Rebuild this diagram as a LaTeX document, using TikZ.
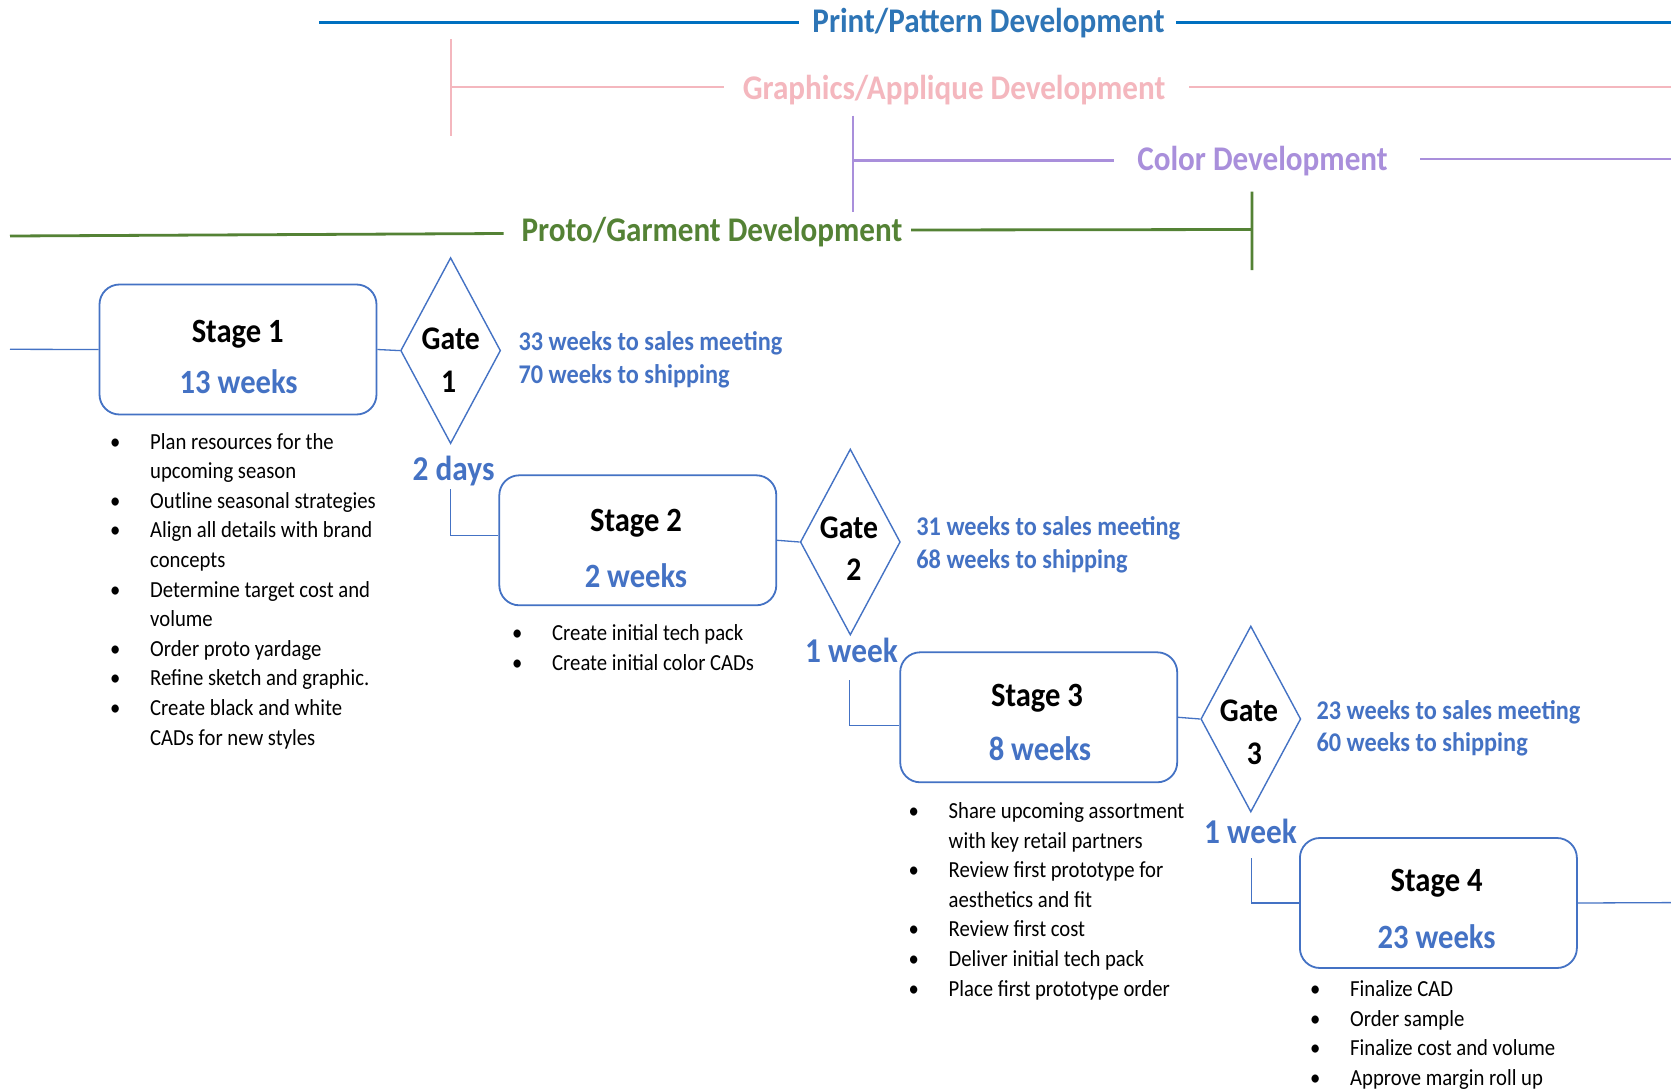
\documentclass[tikz,border=0pt]{standalone}
\usepackage{fontspec}
\setmainfont{Carlito}[FakeStretch=0.9]
\usetikzlibrary{shapes.geometric}
\definecolor{acc}{HTML}{4472C4}
\definecolor{ppblue}{HTML}{2E75B6}
\definecolor{ppline}{HTML}{0070C0}
\definecolor{gapink}{HTML}{F4B7BE}
\definecolor{cdpurple}{HTML}{A98FDB}
\definecolor{pggreen}{HTML}{548235}
\begin{document}
\begin{tikzpicture}[x=1pt,y=-1pt,
  stagebox/.style={draw=acc, line width=1.8pt, rounded corners=20pt, minimum width=277pt, minimum height=130pt, inner sep=0pt},
  gatebox/.style={diamond, draw=acc, line width=1.4pt, minimum width=100pt, minimum height=186pt, inner sep=0pt},
  link/.style={draw=acc, line width=1.3pt},
  stagetxt/.style={font=\fontsize{34}{40}\selectfont\bfseries, anchor=base, inner sep=0pt},
  weektxt/.style={stagetxt, text=acc},
  waittxt/.style={font=\fontsize{34.8}{40}\selectfont\bfseries, text=acc, anchor=base, inner sep=0pt},
  gatetxt/.style={font=\fontsize{33}{40}\selectfont\bfseries, anchor=base, inner sep=0pt},
  sidetxt/.style={font=\fontsize{27}{32.5}\selectfont\bfseries, text=acc, anchor=base west, inner sep=0pt},
  bullets/.style={font=\fontsize{23}{29.6}\selectfont, anchor=base west, inner sep=0pt},
  hdr/.style={font=\fontsize{34.6}{40}\selectfont\bfseries, anchor=base, inner sep=0pt},
]
\useasboundingbox[fill=white] (0,0) rectangle (1671,1092);

% ---------- header brackets ----------
\node[hdr, text=ppblue] (hpp) at (988.5,32.6) {Print/Pattern Development};
\coordinate (pp1) at (319,22.3); \coordinate (pp2) at (799,22.3);
\coordinate (pp3) at (1176,22.3); \coordinate (pp4) at (1671,22.3);
\draw[ppline, line width=2.8pt] (pp1) -- (pp2) (pp3) -- (pp4);

\node[hdr, text=gapink] (hga) at (954,99.5) {Graphics/Applique Development};
\coordinate (ga0) at (451,39); \coordinate (ga1) at (451,136);
\coordinate (ga2) at (451,87.3); \coordinate (ga3) at (723.5,87.3);
\coordinate (ga4) at (1189,87.3); \coordinate (ga5) at (1671,87.3);
\draw[gapink, line width=2.2pt] (ga0) -- (ga1) (ga2) -- (ga3) (ga4) -- (ga5);

\node[hdr, text=cdpurple] (hcd) at (1262.5,170.2) {Color Development};
\coordinate (cd0) at (852.8,115.7); \coordinate (cd1) at (852.8,212.3);
\coordinate (cd2) at (852.8,160.3); \coordinate (cd3) at (1114,160.3);
\coordinate (cd4) at (1420,159) ; \coordinate (cd5) at (1671,159);
\draw[cdpurple, line width=2.4pt] (cd0) -- (cd1) (cd2) -- (cd3) (cd4) -- (cd5);

\node[hdr, text=pggreen] (hpg) at (712,241.9) {Proto/Garment Development};
\coordinate (pg1) at (10,236); \coordinate (pg2) at (503.6,233.5);
\coordinate (pg3) at (911,230); \coordinate (pg4) at (1252,229.5);
\coordinate (pg5) at (1252,191.7); \coordinate (pg6) at (1252,270);
\draw[pggreen, line width=2.8pt] (pg1) -- (pg2) (pg3) -- (pg4) (pg5) -- (pg6);

% ---------- stages ----------
\node[stagebox] (s1) at (238,349.5) {};
\node[stagebox] (s2) at (637.8,540.3) {};
\node[stagebox] (s3) at (1038.7,717.3) {};
\node[stagebox] (s4) at (1438.4,903) {};

\node[stagetxt] (s1a) at (237.7,342.5) {Stage 1};
\node[weektxt]  (s1b) at (238.7,393.8) {13 weeks};
\node[stagetxt] (s2a) at (636,531.2) {Stage 2};
\node[weektxt]  (s2b) at (636,587.2) {2 weeks};
\node[stagetxt] (s3a) at (1037,706) {Stage 3};
\node[weektxt]  (s3b) at (1040,760) {8 weeks};
\node[stagetxt] (s4a) at (1436.6,891.5) {Stage 4};
\node[weektxt]  (s4b) at (1436.6,948.5) {23 weeks};

% ---------- gates ----------
\node[gatebox] (g1) at (450.6,350.6) {};
\node[gatebox] (g2) at (850.3,542) {};
\node[gatebox] (g3) at (1250.8,719) {};

\node[gatetxt] (g1a) at (450.8,349.5) {Gate};
\node[gatetxt] (g1b) at (448.7,392) {1};
\node[gatetxt] (g2a) at (849,538.5) {Gate};
\node[gatetxt] (g2b) at (853.8,580.5) {2};
\node[gatetxt] (g3a) at (1249,721) {Gate};
\node[gatetxt] (g3b) at (1254.3,764) {3};

% ---------- gate notes ----------
\node[sidetxt] (n1) at (518.3,350.7) {\begin{tabular}[t]{@{}l@{}}33 weeks to sales meeting\\70 weeks to shipping\end{tabular}};
\node[sidetxt] (n2) at (916.2,535.5) {\begin{tabular}[t]{@{}l@{}}31 weeks to sales meeting\\68 weeks to shipping\end{tabular}};
\node[sidetxt] (n3) at (1316.3,719) {\begin{tabular}[t]{@{}l@{}}23 weeks to sales meeting\\60 weeks to shipping\end{tabular}};

% ---------- waits ----------
\node[waittxt] (w1) at (453.6,480.7) {2 days};
\node[waittxt] (w2) at (851.5,662.2) {1 week};
\node[waittxt] (w3) at (1250.5,843.7) {1 week};

% ---------- connectors ----------
\coordinate (in0) at (10,349.3);
\coordinate (out4) at (1671,902.6);
\draw[link] (in0) -- (s1.west);
\draw[link] (s1.east) -- (g1.west);
\draw[link] (s2.east) -- (g2.west);
\draw[link] (s3.east) -- (g3.west);
\draw[link] (s4.east) -- (out4);
\coordinate (c1) at (450.6,489.3);
\coordinate (c2) at (849.8,680.2);
\coordinate (c3) at (1251.6,858.3);
\draw[link] (c1) |- ([yshift=5pt]s2.west);
\draw[link] (c2) |- ([yshift=-8pt]s3.west);
\draw[link] (c3) |- (s4.west);

% ---------- task lists ----------
\node[bullets] (l1) at (110,449) {\begin{tabular}[t]{@{}p{40pt}@{}l@{}}
•& Plan resources for the\\
 & upcoming season\\
•& Outline seasonal strategies\\
•& Align all details with brand\\
 & concepts\\
•& Determine target cost and\\
 & volume\\
•& Order proto yardage\\
•& Refine sketch and graphic.\\
•& Create black and white\\
 & CADs for new styles
\end{tabular}};
\node[bullets, font=\fontsize{23}{30.5}\selectfont] (l2) at (512,640.3) {\begin{tabular}[t]{@{}p{40pt}@{}l@{}}
•& Create initial tech pack\\
•& Create initial color CADs
\end{tabular}};
\node[bullets] (l3) at (908.5,818.5) {\begin{tabular}[t]{@{}p{40pt}@{}l@{}}
•& Share upcoming assortment\\
 & with key retail partners\\
•& Review first prototype for\\
 & aesthetics and fit\\
•& Review first cost\\
•& Deliver initial tech pack\\
•& Place first prototype order
\end{tabular}};
\node[bullets] (l4) at (1310,996.5) {\begin{tabular}[t]{@{}p{40pt}@{}l@{}}
•& Finalize CAD\\
•& Order sample\\
•& Finalize cost and volume\\
•& Approve margin roll up
\end{tabular}};
\end{tikzpicture}
\end{document}
